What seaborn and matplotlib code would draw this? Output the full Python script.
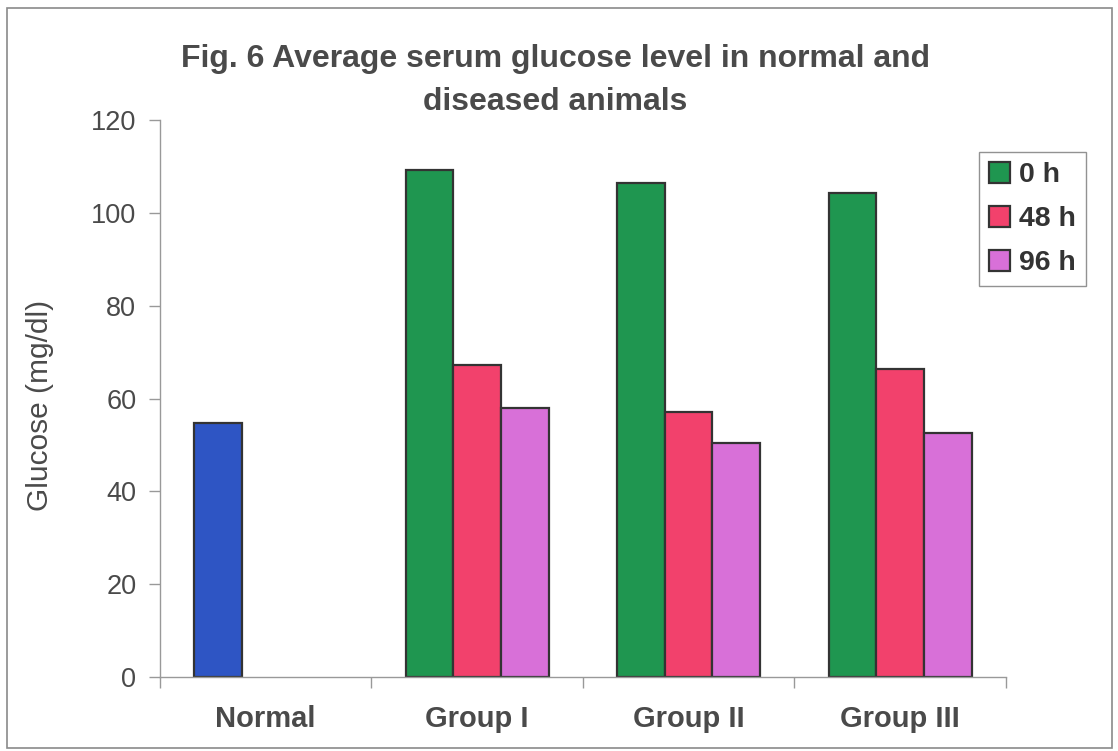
import matplotlib
matplotlib.use("Agg")
import matplotlib.pyplot as plt
import seaborn as sns
import pandas as pd
from matplotlib.patches import Patch, Rectangle

# Average serum glucose (mg/dl) per group and time point
groups = ["Normal", "Group I", "Group II", "Group III"]
times = ["0 h", "48 h", "96 h"]
glucose_0h = [54.8, 109.3, 106.5, 104.3]
glucose_48h = [None, 67.2, 57.1, 66.4]
glucose_96h = [None, 58.0, 50.4, 52.6]

colors = {"0 h": "#1f9650", "48 h": "#f2416c", "96 h": "#d870d8"}
normal_color = "#2e55c4"
text_color = "#4a4a4a"

rows = []
for series, label in zip([glucose_0h, glucose_48h, glucose_96h], times):
    for g, v in zip(groups, series):
        if v is not None:
            rows.append({"group": g, "time": label, "glucose": v})
df = pd.DataFrame(rows)

sns.set_style("white")
plt.rcParams["font.family"] = ["Liberation Sans", "DejaVu Sans"]

fig = plt.figure(figsize=(11.18, 7.51), dpi=100)
ax = fig.add_axes([0.1431, 0.0985, 0.7567, 0.7417])

sns.barplot(data=df, x="group", y="glucose", hue="time", order=groups,
            hue_order=times, palette=colors, width=0.674, gap=0,
            edgecolor="#333333", linewidth=1.6, saturation=1,
            legend=False, ax=ax)

# The normal animals' bar is drawn in its own colour
ax.containers[0].patches[0].set_facecolor(normal_color)

ax.set_ylim(0, 120)
ax.set_xlim(-0.5, 3.5)
ax.set_yticks(range(0, 121, 20))
ax.set_xticks([-0.5, 0.5, 1.5, 2.5, 3.5], minor=False)
ax.set_xticklabels([])
ax.set_xticks(range(4), minor=True)
ax.set_xticklabels(groups, minor=True, fontsize=21, fontweight="bold",
                   color=text_color)
ax.tick_params(axis="x", which="minor", length=0, pad=20)
ax.tick_params(axis="x", which="major", length=8, width=1, color="#999999",
               direction="out", bottom=True)
ax.tick_params(axis="y", length=8, width=1, color="#999999", direction="out",
               left=True, labelsize=19.5, labelcolor=text_color, pad=9)

for side in ["top", "right"]:
    ax.spines[side].set_visible(False)
for side in ["left", "bottom"]:
    ax.spines[side].set_color("#999999")
    ax.spines[side].set_linewidth(1)

ax.set_xlabel("")
ax.set_ylabel("Glucose (mg/dl)", fontsize=21.5, color=text_color)
ax.yaxis.set_label_coords(-0.125, 0.488)

fig.text(0.4965, 0.893,
         "Fig. 6 Average serum glucose level in normal and\ndiseased animals",
         ha="center", va="center", fontsize=23, fontweight="bold",
         color=text_color, linespacing=1.55)

handles = [Patch(facecolor=colors[t], edgecolor="#333333", linewidth=1.6)
           for t in times]
leg = ax.legend(handles, times, loc="upper left",
                bbox_to_anchor=(0.8757, 0.798), bbox_transform=fig.transFigure,
                frameon=True, fancybox=False, edgecolor="#777777",
                prop={"size": 20.5, "weight": "bold"}, handlelength=0.75,
                handleheight=0.75, handletextpad=0.3, labelspacing=0.62,
                borderpad=0.35, borderaxespad=0)
for t in leg.get_texts():
    t.set_color("#333333")

# Chart-area frame
fig.patches.append(Rectangle((0.006, 0.004), 0.989, 0.985,
                             transform=fig.transFigure, fill=False,
                             edgecolor="#8a8a8a", linewidth=1.2))

fig.savefig("out.png", dpi=100)
